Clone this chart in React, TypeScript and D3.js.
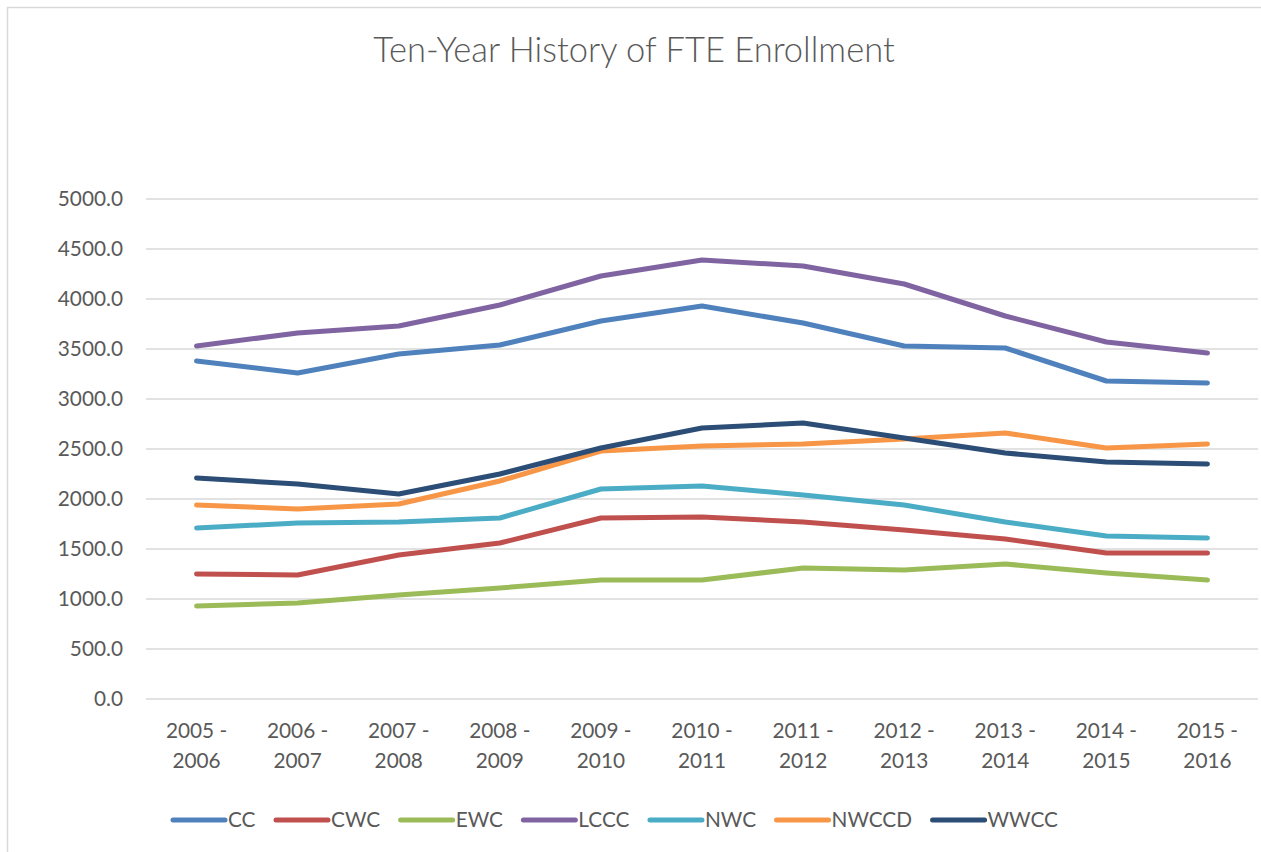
import React, { useRef, useEffect } from 'react';
import * as d3 from 'd3';

// school years on the x axis, two lines each
const years = ['2005 - 2006', '2006 - 2007', '2007 - 2008', '2008 - 2009', '2009 - 2010', '2010 - 2011',
  '2011 - 2012', '2012 - 2013', '2013 - 2014', '2014 - 2015', '2015 - 2016'];

const colleges = ['CC', 'CWC', 'EWC', 'LCCC', 'NWC', 'NWCCD', 'WWCC'];
const colors = ['#4F81BD', '#C0504D', '#9BBB59', '#8064A2', '#4BACC6', '#F79646', '#2C4D75'];

const cc = [3380, 3260, 3450, 3540, 3780, 3930, 3760, 3530, 3510, 3180, 3160];
const cwc = [1250, 1240, 1440, 1560, 1810, 1820, 1770, 1690, 1600, 1460, 1460];
const ewc = [930, 960, 1040, 1110, 1190, 1190, 1310, 1290, 1350, 1260, 1190];
const lccc = [3530, 3660, 3730, 3940, 4230, 4390, 4330, 4150, 3830, 3570, 3460];
const nwc = [1710, 1760, 1770, 1810, 2100, 2130, 2040, 1940, 1770, 1630, 1610];
const nwccd = [1940, 1900, 1950, 2180, 2480, 2530, 2550, 2600, 2660, 2510, 2550];
const wwcc = [2210, 2150, 2050, 2250, 2510, 2710, 2760, 2610, 2460, 2370, 2350];

const yTicks = [0, 500, 1000, 1500, 2000, 2500, 3000, 3500, 4000, 4500, 5000];

const font = 'Lato, "Open Sans", sans-serif';
const textColor = '#595959';

export default function App() {
  const svgRef = useRef<SVGSVGElement>(null);

  useEffect(() => {
    const svg = d3.select(svgRef.current);
    svg.selectAll('*').remove();

    const series = [cc, cwc, ewc, lccc, nwc, nwccd, wwcc];
    const left = 146, right = 1258, top = 199, bottom = 699;

    const x = d3.scaleBand().domain(years).range([left, right]);
    const y = d3.scaleLinear().domain([0, 5000]).range([bottom, top]);

    // chart border
    svg.append('rect')
      .attr('x', 7.5).attr('y', 7.5)
      .attr('width', 1300).attr('height', 900)
      .attr('fill', 'white')
      .attr('stroke', '#d9d9d9')
      .attr('stroke-width', 1.5);

    svg.append('text')
      .attr('x', 634).attr('y', 62)
      .attr('text-anchor', 'middle')
      .attr('font-family', font)
      .attr('font-weight', 300)
      .attr('font-size', 34.5)
      .attr('fill', textColor)
      .text('Ten-Year History of FTE Enrollment');

    // gridlines + y labels
    const yAxis = svg.append('g');
    yAxis.selectAll('line').data(yTicks).join('line')
      .attr('x1', left).attr('x2', right)
      .attr('y1', d => y(d)).attr('y2', d => y(d))
      .attr('stroke', '#d9d9d9').attr('stroke-width', 1.5);
    yAxis.selectAll('text').data(yTicks).join('text')
      .attr('x', 123).attr('y', d => y(d) + 7)
      .attr('text-anchor', 'end')
      .attr('font-family', font).attr('font-size', 20.8)
      .attr('fill', textColor)
      .text(d => d.toFixed(1));

    // x labels
    const xLabels = svg.append('g').selectAll('text').data(years).join('text')
      .attr('text-anchor', 'middle')
      .attr('font-family', font).attr('font-size', 20.8)
      .attr('fill', textColor);
    xLabels.selectAll('tspan').data(d => {
      const [a, b] = d.split(' - ');
      return [{ d, t: a + ' -', dy: 0 }, { d, t: b, dy: 30 }];
    }).join('tspan')
      .attr('x', p => (x(p.d) as number) + x.bandwidth() / 2)
      .attr('y', p => 738 + p.dy)
      .text(p => p.t);

    const line = d3.line<number>()
      .x((_, i) => (x(years[i]) as number) + x.bandwidth() / 2)
      .y(v => y(v));

    svg.append('g').selectAll('path').data(series).join('path')
      .attr('d', d => line(d))
      .attr('fill', 'none')
      .attr('stroke', (_, i) => colors[i])
      .attr('stroke-width', 5)
      .attr('stroke-linecap', 'round')
      .attr('stroke-linejoin', 'round');

    // legend
    const legend = svg.append('g');
    let lx = 173;
    colleges.forEach((name, i) => {
      legend.append('line')
        .attr('x1', lx).attr('x2', lx + 52)
        .attr('y1', 820).attr('y2', 820)
        .attr('stroke', colors[i]).attr('stroke-width', 5)
        .attr('stroke-linecap', 'round');
      const t = legend.append('text')
        .attr('x', lx + 55).attr('y', 827)
        .attr('font-family', font).attr('font-size', 20.8)
        .attr('fill', textColor)
        .text(name);
      const w = (t.node() as SVGTextElement).getComputedTextLength();
      lx += 55 + w + 20.5;
    });
  }, []);

  return (
    <svg ref={svgRef} width={1261} height={852}
      style={{ position: 'absolute', left: 0, top: 0, background: 'white' }} />
  );
}
